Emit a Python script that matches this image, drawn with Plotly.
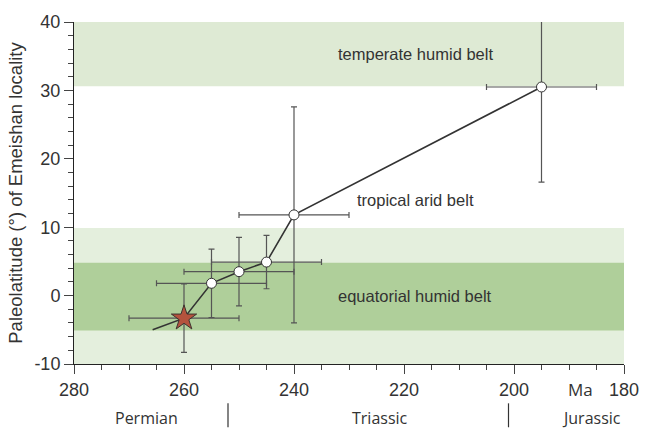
import plotly.graph_objects as go

# Paleolatitude estimates of the Emeishan locality through time
ages = [260, 255, 250, 245, 240, 195]          # Ma
lats = [-3.3, 1.8, 3.5, 4.9, 11.8, 30.5]       # degrees
age_err = [10, 10, 10, 10, 10, 10]
lat_err = [5.0, 5.0, 5.0, 3.9, 15.8, 13.9]

# start of the drift track, older than the first pole
track_start_age = 265.7
track_start_lat = -5.0

# climate belts (lower, upper latitude)
belt_temperate = (30.6, 40.4)
belt_outer_tropics = (-10, 9.9)
belt_equatorial = (-5.1, 4.8)

belt_labels = ["temperate humid belt", "tropical arid belt", "equatorial humid belt"]
belt_label_lats = [35.3, 14.0, 0.0]
belt_label_age = 218

periods = ["Permian", "Triassic", "Jurassic"]
period_label_ages = [266.8, 224.3, 186.0]
period_boundaries = [252, 201]

x_ticks = [280, 260, 240, 220, 200, 180]
y_ticks = [-10, 0, 10, 20, 30, 40]
y_ticklabels = ["-10", "0", "10", "20", "30", "40"]

X_MIN, X_MAX = 280, 180
Y_MIN, Y_MAX = -10, 40

TICK_FONT = dict(family="Liberation Sans, Arial, sans-serif", size=18, color="#333333")
LABEL_FONT = dict(family="Liberation Sans, Arial, sans-serif", size=16.5, color="#333333")
PERIOD_FONT = dict(family="Open Sans, sans-serif", size=16, color="#333333")

fig = go.Figure()

# drift track
fig.add_trace(go.Scatter(
    x=[track_start_age] + ages,
    y=[track_start_lat] + lats,
    mode="lines",
    line=dict(color="#333333", width=1.6),
    hoverinfo="skip",
))

# poles with uncertainties (open circles)
fig.add_trace(go.Scatter(
    x=ages[1:], y=lats[1:],
    mode="markers",
    marker=dict(symbol="circle", size=10, color="white",
                line=dict(color="#333333", width=1)),
    error_x=dict(type="data", array=age_err[1:], color="#555555", thickness=1.2, width=3),
    error_y=dict(type="data", array=lat_err[1:], color="#555555", thickness=1.2, width=3),
))

# oldest pole (star)
fig.add_trace(go.Scatter(
    x=ages[:1], y=lats[:1],
    mode="markers",
    marker=dict(symbol="star", size=19, color="#b4533d",
                line=dict(color="#3d3330", width=1)),
    error_x=dict(type="data", array=age_err[:1], color="#555555", thickness=1.2, width=3),
    error_y=dict(type="data", array=lat_err[:1], color="#555555", thickness=1.2, width=3),
))

shapes = []
for (lo, hi), col in [(belt_temperate, "#deead4"),
                      (belt_outer_tropics, "#e4efdd"),
                      (belt_equatorial, "#afcf9a")]:
    shapes.append(dict(type="rect", xref="paper", yref="y", x0=0, x1=1,
                       y0=lo, y1=hi, fillcolor=col, line=dict(width=0),
                       layer="below"))

# period boundaries below the age axis
for b in period_boundaries:
    xp = (X_MIN - b) / (X_MIN - X_MAX)
    shapes.append(dict(type="line", xref="paper", yref="paper",
                       x0=xp, x1=xp, y0=-0.115, y1=-0.185,
                       line=dict(color="#333333", width=1.2)))

annotations = []
for txt, lat in zip(belt_labels, belt_label_lats):
    annotations.append(dict(x=belt_label_age, y=lat, xref="x", yref="y",
                            text=txt, showarrow=False, font=LABEL_FONT,
                            xanchor="center", yanchor="middle"))
for txt, a in zip(periods, period_label_ages):
    annotations.append(dict(x=a, y=-0.158, xref="x", yref="paper",
                            text=txt, showarrow=False, font=PERIOD_FONT,
                            xanchor="center", yanchor="middle"))
annotations.append(dict(x=188, y=-0.076, xref="x", yref="paper", text="Ma",
                        showarrow=False, font=dict(family="Open Sans, sans-serif",
                                                   size=17, color="#333333"),
                        xanchor="center", yanchor="middle"))

fig.update_layout(
    width=651, height=428,
    margin=dict(l=74, r=22, t=22, b=64),
    plot_bgcolor="white", paper_bgcolor="white",
    showlegend=False,
    shapes=shapes,
    annotations=annotations,
)

fig.update_xaxes(
    range=[X_MIN, X_MAX],
    tickmode="array", tickvals=x_ticks,
    ticks="outside", ticklen=9, tickcolor="#444444", tickwidth=1,
    minor=dict(tickmode="linear", tick0=180, dtick=5, ticks="outside",
               ticklen=5, tickcolor="#444444"),
    showline=True, linecolor="#222222", linewidth=1,
    showgrid=False, zeroline=False,
    tickfont=TICK_FONT,
)

fig.update_yaxes(
    range=[Y_MIN, Y_MAX],
    tickmode="array", tickvals=y_ticks, ticktext=y_ticklabels,
    ticks="outside", ticklen=9, tickcolor="#444444", tickwidth=1,
    minor=dict(tickmode="linear", tick0=0, dtick=2, ticks="outside",
               ticklen=5, tickcolor="#444444"),
    showline=True, linecolor="#222222", linewidth=1,
    showgrid=False, zeroline=False,
    tickfont=TICK_FONT,
    title=dict(text="Paleolatitude (°) of Emeishan locality",
               font=dict(family="Liberation Sans, Arial, sans-serif", size=18.5,
                         color="#333333"),
               standoff=6),
)

fig.write_html("out.html")
